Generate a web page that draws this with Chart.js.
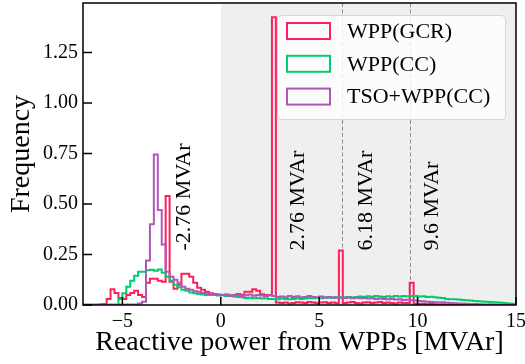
<!DOCTYPE html>
<html>
<head>
<meta charset="utf-8">
<script src="https://cdn.jsdelivr.net/npm/chart.js@4.4.0/dist/chart.umd.min.js"></script>
<style>
html, body { margin: 0; padding: 0; background: #fff; }
</style>
</head>
<body>
<canvas id="chart" width="525" height="364"></canvas>
<script>
// Histogram bins: 0.2 MVAr wide, starting at -7
const BIN_START = -7;
const BIN_WIDTH = 0.2;

const SERIES_LABELS = ['WPP(GCR)', 'WPP(CC)', 'TSO+WPP(CC)'];
const SERIES_COLORS = ['#ff1f5b', '#00cd6c', '#af58ba'];

// bin heights (frequency)
const gcrValues = [
    0, 0, 0, 0, 0.003, 0.005, 0.03, 0.078, 0.06, 0.035,
    0.03, 0.05, 0.06, 0.07, 0.05, 0.04, 0.11, 0.13, 0.13, 0.12,
    0.115, 0.54, 0.115, 0.08, 0.1, 0.155, 0.155, 0.14, 0.11, 0.085,
    0.075, 0.065, 0.058, 0.055, 0.052, 0.05, 0.052, 0.048, 0.05, 0.055,
    0.05, 0.066, 0.066, 0.078, 0.07, 0.053, 0.05, 0.05, 1.425, 0.012,
    0.01, 0.012, 0.008, 0.01, 0.014, 0.012, 0.01, 0.015, 0.012, 0.01,
    0.012, 0.014, 0.01, 0.012, 0.01, 0.27, 0.01, 0.012, 0.015, 0.01,
    0.008, 0.012, 0.014, 0.01, 0.012, 0.015, 0.01, 0.012, 0.01, 0.008,
    0.012, 0.01, 0.01, 0.11, 0.006, 0.005, 0.006, 0.004, 0.005, 0.004,
    0.003, 0.004, 0.003, 0.002, 0.003, 0.002, 0.002, 0.001, 0.002, 0.001,
    0.001, 0.001, 0, 0.001, 0, 0, 0, 0, 0, 0
];

const ccValues = [
    0, 0, 0, 0, 0, 0, 0, 0, 0, 0.03,
    0.058, 0.09, 0.12, 0.145, 0.165, 0.165, 0.172, 0.175, 0.17, 0.176,
    0.16, 0.14, 0.12, 0.1, 0.088, 0.076, 0.07, 0.062, 0.058, 0.055,
    0.052, 0.05, 0.049, 0.05, 0.047, 0.05, 0.045, 0.048, 0.042, 0.04,
    0.038, 0.035, 0.036, 0.033, 0.035, 0.032, 0.034, 0.03, 0.03, 0.028,
    0.032, 0.03, 0.028, 0.03, 0.033, 0.03, 0.032, 0.035, 0.033, 0.036,
    0.034, 0.038, 0.036, 0.035, 0.038, 0.036, 0.038, 0.04, 0.037, 0.04,
    0.042, 0.04, 0.043, 0.041, 0.044, 0.042, 0.04, 0.043, 0.041, 0.044,
    0.042, 0.045, 0.043, 0.045, 0.044, 0.042, 0.043, 0.04, 0.041, 0.038,
    0.036, 0.035, 0.03, 0.029, 0.028, 0.027, 0.025, 0.023, 0.022, 0.02,
    0.019, 0.017, 0.016, 0.015, 0.014, 0.012, 0.011, 0.009, 0.007, 0.005
];

const tsoValues = [
    0.003, 0.003, 0.003, 0.003, 0.003, 0.003, 0.003, 0.003, 0.003, 0.003,
    0.003, 0.003, 0.003, 0.003, 0.008, 0.016, 0.22, 0.4, 0.745, 0.47,
    0.3, 0.165, 0.14, 0.125, 0.11, 0.09, 0.08, 0.075, 0.068, 0.065,
    0.06, 0.058, 0.055, 0.052, 0.05, 0.048, 0.05, 0.045, 0.047, 0.05,
    0.045, 0.048, 0.052, 0.046, 0.05, 0.047, 0.045, 0.048, 0.044, 0.04,
    0.042, 0.038, 0.045, 0.04, 0.043, 0.038, 0.04, 0.044, 0.04, 0.038,
    0.042, 0.036, 0.04, 0.038, 0.036, 0.038, 0.035, 0.037, 0.034, 0.036,
    0.033, 0.035, 0.032, 0.034, 0.03, 0.032, 0.03, 0.028, 0.03, 0.027,
    0.028, 0.025, 0.026, 0.024, 0.022, 0.02, 0.018, 0.016, 0.015, 0.014,
    0.012, 0.013, 0.011, 0.01, 0.009, 0.008, 0.007, 0.006, 0.005, 0.005,
    0.004, 0.003, 0.003, 0.002, 0.002, 0.001, 0.001, 0.001, 0, 0
];

// reference levels marked on the plot
const MARK_VALUES = [-2.76, 2.76, 6.18, 9.6];
const MARK_TEXT_X = [-1.87, 3.95, 7.37, 10.76];
const DASHED_AT = [6.18, 9.6];
const SHADE_FROM = 0;
const SHADE_TO = 15;

const X_MIN = -7, X_MAX = 15;
const Y_MIN = 0, Y_MAX = 1.495;
const X_TITLE = 'Reactive power from WPPs [MVAr]';
const Y_TITLE = 'Frequency';

const FONT = '"Liberation Serif", "Times New Roman", serif';

// turn bin heights into step points (left edges + closing right edge)
function toSteps(heights) {
    const pts = heights.map((h, i) => ({ x: BIN_START + i * BIN_WIDTH, y: h }));
    pts.push({ x: BIN_START + heights.length * BIN_WIDTH, y: heights[heights.length - 1] });
    return pts;
}

const decor = {
    id: 'decor',
    beforeDatasetsDraw(chart) {
        const { ctx, chartArea: a, scales: { x } } = chart;
        ctx.save();
        const x0 = x.getPixelForValue(SHADE_FROM);
        const x1 = x.getPixelForValue(SHADE_TO);
        ctx.fillStyle = '#efefef';
        ctx.fillRect(x0, a.top, x1 - x0, a.bottom - a.top);

        ctx.strokeStyle = '#8c8c8c';
        ctx.lineWidth = 1;
        ctx.setLineDash([4, 2.5]);
        DASHED_AT.forEach(v => {
            const px = Math.round(x.getPixelForValue(v)) + 0.5;
            ctx.beginPath();
            ctx.moveTo(px, a.top);
            ctx.lineTo(px, a.bottom);
            ctx.stroke();
        });
        ctx.restore();
    },
    afterDatasetsDraw(chart) {
        const { ctx, chartArea: a, scales: { x, y } } = chart;
        ctx.save();

        // rotated labels next to the reference levels
        ctx.fillStyle = '#000';
        ctx.font = '22px ' + FONT;
        ctx.textAlign = 'left';
        ctx.textBaseline = 'middle';
        MARK_VALUES.forEach((v, i) => {
            ctx.save();
            ctx.translate(x.getPixelForValue(MARK_TEXT_X[i]), y.getPixelForValue(0.27));
            ctx.rotate(-Math.PI / 2);
            ctx.fillText(v + ' MVAr', 0, 0);
            ctx.restore();
        });

        // legend box
        const lx = 277, ly = 15, lw = 228, lh = 104;
        ctx.beginPath();
        ctx.roundRect(lx + 0.5, ly + 0.5, lw, lh, 4);
        ctx.fillStyle = 'rgba(255,255,255,0.8)';
        ctx.fill();
        ctx.strokeStyle = '#d6d6d6';
        ctx.lineWidth = 1;
        ctx.stroke();
        chart.data.datasets.forEach((d, i) => {
            const cy = 31 + i * 32.8;
            ctx.strokeStyle = d.borderColor;
            ctx.lineWidth = 2;
            ctx.strokeRect(287, cy - 8, 43, 16);
            ctx.fillStyle = '#000';
            ctx.font = '22px ' + FONT;
            ctx.textBaseline = 'middle';
            ctx.fillText(d.label, 347, cy + 1);
        });

        // frame and inward ticks
        ctx.strokeStyle = '#000';
        ctx.lineWidth = 1.5;
        ctx.strokeRect(a.left, a.top, a.right - a.left, a.bottom - a.top);
        x.ticks.forEach(t => {
            const px = x.getPixelForValue(t.value);
            ctx.beginPath();
            ctx.moveTo(px, a.bottom);
            ctx.lineTo(px, a.bottom - 8);
            ctx.stroke();
        });
        y.ticks.forEach(t => {
            const py = y.getPixelForValue(t.value);
            ctx.beginPath();
            ctx.moveTo(a.left, py);
            ctx.lineTo(a.left + 9, py);
            ctx.stroke();
        });
        ctx.restore();
    }
};

const seriesValues = [gcrValues, ccValues, tsoValues];

new Chart(document.getElementById('chart'), {
    type: 'line',
    data: {
        datasets: seriesValues.map((vals, i) => ({
            label: SERIES_LABELS[i],
            data: toSteps(vals),
            borderColor: SERIES_COLORS[i],
            borderWidth: 2,
            stepped: true,
            fill: false,
            pointRadius: 0,
            order: 3 - i
        }))
    },
    options: {
        responsive: false,
        animation: false,
        devicePixelRatio: 1,
        layout: { padding: { top: 3, right: 9, left: 0, bottom: 0 } },
        plugins: {
            legend: { display: false },
            tooltip: { enabled: false }
        },
        scales: {
            x: {
                type: 'linear',
                min: X_MIN,
                max: X_MAX,
                afterFit: s => {
                    s.height = 59;
                    s.paddingLeft = 0;
                    s.paddingRight = 0;
                },
                grid: { display: false, drawTicks: false },
                border: { display: false },
                ticks: {
                    stepSize: 5,
                    includeBounds: false,
                    padding: 5,
                    maxRotation: 0,
                    autoSkip: false,
                    color: '#000',
                    font: { family: FONT, size: 20 },
                    callback: v => (v < 0 ? '\u2212' + Math.abs(v) : String(v))
                },
                title: {
                    display: true,
                    text: X_TITLE,
                    color: '#000',
                    font: { family: FONT, size: 28 },
                    padding: { top: 0, bottom: 5 }
                }
            },
            y: {
                min: Y_MIN,
                max: Y_MAX,
                afterFit: s => {
                    s.width = 83;
                    s.paddingTop = 0;
                    s.paddingBottom = 0;
                },
                grid: { display: false, drawTicks: false },
                border: { display: false },
                ticks: {
                    stepSize: 0.25,
                    includeBounds: false,
                    padding: 5,
                    color: '#000',
                    font: { family: FONT, size: 20 },
                    callback: v => v.toFixed(2)
                },
                title: {
                    display: true,
                    text: Y_TITLE,
                    color: '#000',
                    font: { family: FONT, size: 28 },
                    padding: { top: 5, bottom: 0 }
                }
            }
        }
    },
    plugins: [decor]
});
</script>
</body>
</html>
